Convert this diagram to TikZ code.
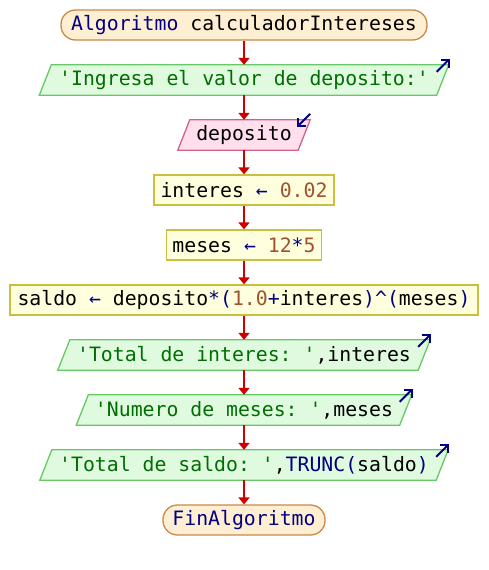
\documentclass[tikz,border=0pt]{standalone}
\usepackage{fontspec}
\setmonofont{DejaVu Sans Mono}
\usetikzlibrary{arrows.meta,backgrounds,calc}

% palette of the flowchart
\definecolor{kwc}{HTML}{000080}
\definecolor{strc}{HTML}{006E00}
\definecolor{numc}{HTML}{A0522D}
\definecolor{flowc}{HTML}{D00000}
\definecolor{termfill}{HTML}{FFEFD2}
\definecolor{termline}{HTML}{C8884A}
\definecolor{outfill}{HTML}{E0FAE0}
\definecolor{outline}{HTML}{66C866}
\definecolor{infill}{HTML}{FFDFEC}
\definecolor{inline}{HTML}{D0608C}
\definecolor{procfill}{HTML}{FFFFDD}
\definecolor{procline}{HTML}{C8C040}

% syntax colouring
\newcommand{\Kw}[1]{\textcolor{kwc}{#1}}
\newcommand{\Str}[1]{\textcolor{strc}{#1}}
\newcommand{\Num}[1]{\textcolor{numc}{#1}}

\tikzset{
  term/.style={draw=termline, fill=termfill, line width=1.3pt, rounded corners=14.5pt,
    minimum height=30pt, inner sep=0pt},
  proc/.style={draw=procline, fill=procfill, line width=1.3pt,
    minimum height=30pt, inner sep=0pt},
  iobox/.style={minimum height=30pt, inner sep=0pt},
  outshape/.style={draw=outline, fill=outfill, line width=1.3pt},
  inshape/.style={draw=inline, fill=infill, line width=1.3pt},
  flowarrow/.style={draw=flowc, line width=2pt, -{Triangle[width=11pt,length=7pt]}},
  ioicon/.style={draw=kwc, line width=2pt, -{Straight Barb[length=5.5pt,width=11pt]}}
}

\begin{document}
\begin{tikzpicture}[x=1pt, y=-1pt, font=\ttfamily\fontsize{19.8}{24}\selectfont]
\useasboundingbox (0,0) rectangle (488,570);

% statements, top to bottom
\node[term, minimum width=366pt] (start) at (244,25) {\Kw{Algoritmo} calculadorIntereses};
\node[iobox, minimum width=397pt] (out1) at (244,80) {\Str{'Ingresa el valor de deposito:'}};
\node[iobox, minimum width=120pt] (in1) at (244,135) {deposito};
\node[proc, minimum width=180pt] (p1) at (244,190) {interes \Kw{←} \Num{0.02}};
\node[proc, minimum width=155pt] (p2) at (244,245) {meses \Kw{←} \Num{12}\Kw{*}\Num{5}};
\node[proc, minimum width=468pt] (p3) at (244,300)
  {saldo \Kw{←} deposito\Kw{*(}\Num{1.0}\Kw{+}interes\Kw{)\textasciicircum(}meses\Kw{)}};
\node[iobox, minimum width=360pt] (out2) at (244,355) {\Str{'Total de interes: '},interes};
\node[iobox, minimum width=323pt] (out3) at (244,410) {\Str{'Numero de meses: '},meses};
\node[iobox, minimum width=396pt] (out4) at (244,465) {\Str{'Total de saldo: '},\Kw{TRUNC(}saldo\Kw{)}};
\node[term, minimum width=162pt] (stop) at (244,520) {\Kw{FinAlgoritmo}};

% slanted boxes for reading and writing
\begin{scope}[on background layer]
  \foreach \n in {out1,out2,out3,out4}
    \draw[outshape] ($(\n.south west)+(-6,0)$) -- ($(\n.north west)+(6,0)$)
      -- ($(\n.north east)+(6,0)$) -- ($(\n.south east)+(-6,0)$) -- cycle;
  \draw[inshape] ($(in1.south west)+(-6,0)$) -- ($(in1.north west)+(6,0)$)
      -- ($(in1.north east)+(6,0)$) -- ($(in1.south east)+(-6,0)$) -- cycle;
\end{scope}

% output / input markers
\foreach \n in {out1,out2,out3,out4}
  \draw[ioicon] ($(\n.north east)+(-6,7)$) -- ($(\n.north east)+(7,-6)$);
\draw[ioicon] ($(in1.north east)+(6,-6)$) -- ($(in1.north east)+(-7,7)$);

% control flow
\foreach \a/\b in {start/out1,out1/in1,in1/p1,p1/p2,p2/p3,p3/out2,out2/out3,out3/out4,out4/stop}
  \draw[flowarrow] (\a.south) -- (\a.south |- \b.north);
\end{tikzpicture}
\end{document}
